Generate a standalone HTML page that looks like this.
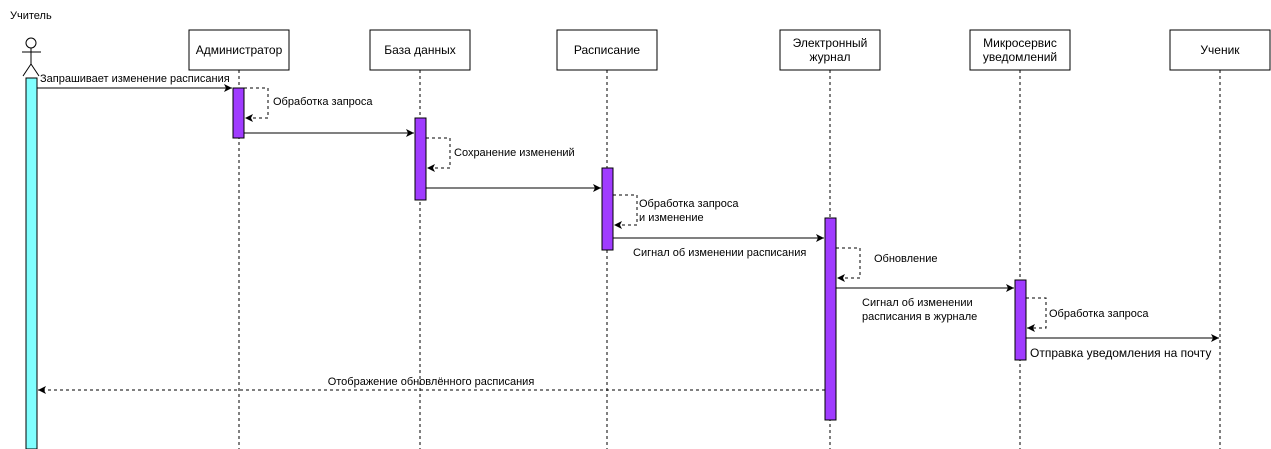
<!DOCTYPE html>
<html><head><meta charset="utf-8"><style>body{margin:0;background:#fff}svg{display:block}text{font-family:"Liberation Sans",sans-serif;font-size:11px;fill:#000}</style></head><body>
<svg width="1271" height="449" viewBox="0 0 1271 449">
<defs><marker id="a" markerWidth="10" markerHeight="10" refX="8" refY="4" orient="auto" markerUnits="userSpaceOnUse"><path d="M0,0 L8,4 L0,8 L2,4 Z" fill="#000"/></marker></defs>
<text x="10" y="19">Учитель</text>
<g stroke="#000" fill="none"><circle cx="31" cy="43" r="5"/><line x1="31" y1="48" x2="31" y2="64"/><line x1="22" y1="52" x2="41" y2="52"/><line x1="31" y1="64" x2="23" y2="76"/><line x1="31" y1="64" x2="39" y2="76"/></g>
<g stroke="#000" stroke-dasharray="3,3"><line x1="239" y1="70" x2="239" y2="449"/><line x1="420" y1="70" x2="420" y2="449"/><line x1="607" y1="70" x2="607" y2="449"/><line x1="830" y1="70" x2="830" y2="449"/><line x1="1020" y1="70" x2="1020" y2="449"/><line x1="1220" y1="70" x2="1220" y2="449"/></g>
<g fill="#fff" stroke="#000"><rect x="189" y="30" width="100" height="40"/><rect x="370" y="30" width="100" height="40"/><rect x="557" y="30" width="100" height="40"/><rect x="780" y="30" width="100" height="40"/><rect x="970" y="30" width="100" height="40"/><rect x="1170" y="30" width="100" height="40"/></g>
<g text-anchor="middle" font-size="12"><text x="239" y="54" style="font-size:12px">Администратор</text><text x="420" y="54" style="font-size:12px">База данных</text><text x="607" y="54" style="font-size:12px">Расписание</text><text x="830" y="47" style="font-size:12px">Электронный</text><text x="830" y="61" style="font-size:12px">журнал</text><text x="1020" y="47" style="font-size:12px">Микросервис</text><text x="1020" y="61" style="font-size:12px">уведомлений</text><text x="1220" y="54" style="font-size:12px">Ученик</text></g>
<rect x="26" y="78" width="11" height="371" fill="#80ffff" stroke="#000"/>
<g fill="#a03cff" stroke="#000"><rect x="233" y="88" width="11" height="50"/><rect x="415" y="118" width="11" height="82"/><rect x="602" y="168" width="11" height="82"/><rect x="825" y="218" width="11" height="202"/><rect x="1015" y="280" width="11" height="80"/></g>
<g stroke="#000" fill="none"><line x1="37" y1="88" x2="232" y2="88" marker-end="url(#a)"/><line x1="244" y1="133" x2="414" y2="133" marker-end="url(#a)"/><line x1="426" y1="188" x2="601" y2="188" marker-end="url(#a)"/><line x1="613" y1="238" x2="824" y2="238" marker-end="url(#a)"/><line x1="836" y1="288" x2="1014" y2="288" marker-end="url(#a)"/><line x1="1026" y1="338" x2="1219" y2="338" marker-end="url(#a)"/></g>
<g stroke="#000" fill="none" stroke-dasharray="3,3"><polyline points="244,88 268,88 268,118 245,118" marker-end="url(#a)"/><polyline points="426,138 450,138 450,168 427,168" marker-end="url(#a)"/><polyline points="613,195 637,195 637,225 614,225" marker-end="url(#a)"/><polyline points="836,248 860,248 860,278 837,278" marker-end="url(#a)"/><polyline points="1026,298 1046,298 1046,328 1027,328" marker-end="url(#a)"/><line x1="825" y1="390" x2="38" y2="390" marker-end="url(#a)"/></g>
<text x="40" y="82">Запрашивает изменение расписания</text>
<text x="273" y="105">Обработка запроса</text>
<text x="454" y="156">Сохранение изменений</text>
<text x="639" y="207">Обработка запроса</text><text x="639" y="221">и изменение</text>
<text x="633" y="256">Сигнал об изменении расписания</text>
<text x="874" y="262">Обновление</text>
<text x="862" y="306">Сигнал об изменении</text><text x="862" y="320">расписания в журнале</text>
<text x="1049" y="317">Обработка запроса</text>
<text x="1030" y="357" style="font-size:12px">Отправка уведомления на почту</text>
<text x="431" y="385" text-anchor="middle">Отображение обновлённого расписания</text>
</svg></body></html>
